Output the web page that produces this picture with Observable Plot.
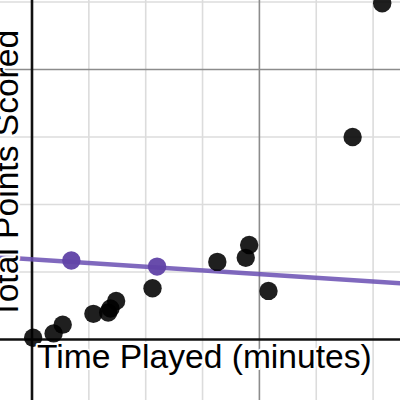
<!DOCTYPE html>
<html>
<head>
<meta charset="utf-8">
<script src="https://cdn.jsdelivr.net/npm/d3@7"></script>
<script src="https://cdn.jsdelivr.net/npm/@observablehq/plot@0.6"></script>
<style>
  html, body { margin: 0; padding: 0; background: #fff; }
  #chart { width: 400px; height: 400px; overflow: hidden; }
</style>
</head>
<body>
<div id="chart"></div>
<script>
// Observed data: time played (minutes) vs total points scored
const timePlayed   = [0.1, 1.9, 2.7, 5.4, 6.7, 6.9, 7.4, 10.6, 16.3, 18.8, 19.1, 20.8, 28.2, 30.8];
const pointsScored = [0.13, 0.45, 1.1, 1.9, 2.0, 2.3, 2.85, 3.8, 5.75, 6.05, 7.0, 3.6, 15.0, 24.9];

// Highlighted (purple) points
const purpleX = [3.46, 11.0];
const purpleY = [5.85, 5.4];

// Trend line endpoints
const lineX = [-3, 33];
const lineY = [6.11, 4.13];

// Grid
const minorX = [5, 10, 15, 25, 30];
const majorX = [20];
const minorY = [5, 10, 15, 25];
const majorY = [20];

const xLabel = "Time Played (minutes)";
const yLabel = "Total Points Scored";

const pts = timePlayed.map((x, i) => ({x, y: pointsScored[i]}));
const ppts = purpleX.map((x, i) => ({x, y: purpleY[i]}));
const line = lineX.map((x, i) => ({x, y: lineY[i]}));

const font = "'Liberation Sans', Arial, sans-serif";

const chart = Plot.plot({
  width: 400,
  height: 400,
  margin: 0,
  style: {background: "#fff", fontFamily: font},
  x: {domain: [-31.5 / 11.37, (400 - 31.5) / 11.37], axis: null},
  y: {domain: [(339 - 400) / 13.5, 339 / 13.5], axis: null},
  marks: [
    Plot.ruleX(minorX, {stroke: "#dcdcdc", strokeWidth: 1.6}),
    Plot.ruleY(minorY, {stroke: "#dcdcdc", strokeWidth: 1.6}),
    Plot.ruleX(majorX, {stroke: "#8c8c8c", strokeWidth: 1.6}),
    Plot.ruleY(majorY, {stroke: "#8c8c8c", strokeWidth: 1.6}),
    Plot.ruleX([0], {stroke: "#111", strokeWidth: 2.6}),
    Plot.ruleY([0], {stroke: "#111", strokeWidth: 2.6}),
    Plot.line(line, {x: "x", y: "y", stroke: "#6a4fb3", strokeOpacity: 0.85, strokeWidth: 4.5}),
    Plot.dot(ppts, {x: "x", y: "y", r: 9.2, fill: "#6042a6", fillOpacity: 0.95, stroke: null}),
    Plot.dot(pts, {x: "x", y: "y", r: 9.2, fill: "#000", fillOpacity: 0.88, stroke: null}),
    Plot.text([xLabel], {
      x: [0], y: [0], text: d => d, dx: 5, dy: 28,
      textAnchor: "start", lineAnchor: "bottom",
      fontSize: 33.6, fontFamily: font, fill: "#000",
      stroke: "#fff", strokeWidth: 4
    }),
    Plot.text([yLabel], {
      frameAnchor: "left", text: d => d, dx: 17, dy: -26,
      rotate: -90, textAnchor: "middle", lineAnchor: "bottom",
      fontSize: 33.6, fontFamily: font, fill: "#000",
      stroke: "#fff", strokeWidth: 4
    })
  ]
});
document.getElementById("chart").append(chart);
</script>
</body>
</html>
